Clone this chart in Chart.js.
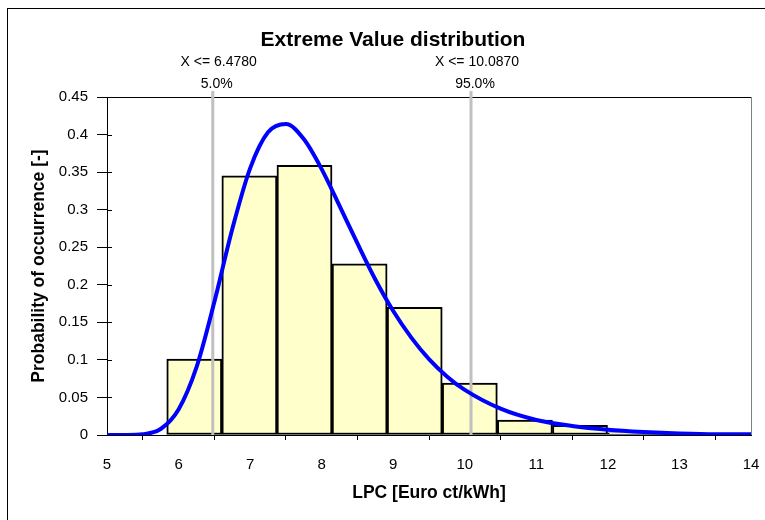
<!DOCTYPE html>
<html>
<head>
<meta charset="utf-8">
<script src="https://cdn.jsdelivr.net/npm/chart.js@4.4.0/dist/chart.umd.min.js"></script>
<style>
body { margin: 0; background: #fff; }
#wrap { position: relative; width: 765px; height: 520px; overflow: hidden; }
#frame { position: absolute; left: 7px; top: 8px; width: 900px; height: 900px; border: 1px solid #000; }
canvas { position: absolute; left: 0; top: 0; }
</style>
</head>
<body>
<div id="wrap">
  <div id="frame"></div>
  <canvas id="myChart" width="765" height="520"></canvas>
</div>
<script>
var ctx = document.getElementById('myChart').getContext('2d');
var FONT = "'Liberation Sans', Arial, sans-serif";

// Histogram (bin centres and probabilities)
var binCenters = [6.22, 6.99, 7.76, 8.53, 9.30, 10.07, 10.84, 11.61, 12.38, 13.15];
var binValues = [0.101, 0.345, 0.359, 0.228, 0.170, 0.069, 0.020, 0.013, 0.003, 0.002];

// Fitted extreme value curve
var curveX = [5, 5.25, 5.5, 5.75, 6, 6.25, 6.5, 6.75, 7, 7.25, 7.5, 7.75, 8, 8.25, 8.5, 8.75, 9, 9.25, 9.5, 9.75, 10, 10.5, 11, 11.5, 12, 12.5, 13, 13.5, 14];
var curveY = [0, 0.0001, 0.001, 0.008, 0.034, 0.09, 0.177, 0.274, 0.355, 0.403, 0.414, 0.394, 0.354, 0.305, 0.255, 0.207, 0.165, 0.13, 0.101, 0.078, 0.06, 0.035, 0.02, 0.012, 0.007, 0.004, 0.002, 0.001, 0.001];

// Percentile markers
var markerX = [6.478, 10.087];
var markerLabels = ['X <= 6.4780', 'X <= 10.0870'];
var markerPct = ['5.0%', '95.0%'];
var markerTop = 0.458;

function toPoints(xs, ys) {
    return xs.map(function (x, i) { return { x: x, y: ys[i] }; });
}

function markerLine(i) {
    return {
        type: 'line',
        data: [{ x: markerX[i], y: 0 }, { x: markerX[i], y: markerTop }],
        borderColor: '#c0c0c0',
        borderWidth: 3,
        pointRadius: 0,
        clip: false,
        order: 1
    };
}

// Extra drawing: plot frame, inner ticks, title and marker labels
var extras = {
    id: 'extras',
    beforeDatasetsDraw: function (chart) {
        var a = chart.chartArea, c = chart.ctx;
        c.save();
        c.lineWidth = 1;
        c.strokeStyle = '#000';
        c.beginPath();
        c.moveTo(a.left, a.top + 0.5);
        c.lineTo(a.right, a.top + 0.5);
        c.stroke();
        c.strokeStyle = '#808080';
        c.beginPath();
        c.moveTo(a.right + 0.5, a.top);
        c.lineTo(a.right + 0.5, a.bottom);
        c.stroke();
        c.strokeStyle = '#000';
        var ys = chart.scales.y;
        ys.ticks.forEach(function (t) {
            var py = Math.round(ys.getPixelForValue(t.value)) + 0.5;
            c.beginPath();
            c.moveTo(a.left, py);
            c.lineTo(a.left + 5, py);
            c.stroke();
        });
        c.restore();
    },
    afterDraw: function (chart) {
        var c = chart.ctx, xs = chart.scales.x;
        c.save();
        c.fillStyle = '#000';
        c.textAlign = 'center';
        c.textBaseline = 'middle';
        c.font = 'bold 21px ' + FONT;
        c.fillText('Extreme Value distribution', 393, 40);
        c.font = '14px ' + FONT;
        markerX.forEach(function (v, i) {
            var px = xs.getPixelForValue(v);
            c.fillText(markerLabels[i], px + 6, 62);
            c.fillText(markerPct[i], px + 4, 84);
        });
        c.restore();
    }
};

var myChart = new Chart(ctx, {
    data: {
        datasets: [{
            type: 'line',
            data: toPoints(curveX, curveY),
            borderColor: '#0000ff',
            borderWidth: 4,
            pointRadius: 0,
            cubicInterpolationMode: 'monotone',
            order: 0
        },
        markerLine(0),
        markerLine(1),
        {
            type: 'bar',
            data: toPoints(binCenters, binValues),
            backgroundColor: '#ffffcc',
            borderColor: '#000',
            borderWidth: 2,
            borderSkipped: false,
            barPercentage: 1,
            categoryPercentage: 1,
            grouped: false,
            order: 2
        }]
    },
    options: {
        responsive: false,
        animation: false,
        devicePixelRatio: 1,
        layout: { padding: { left: 25, right: 14, top: 97, bottom: 12 } },
        plugins: {
            legend: { display: false },
            title: { display: false },
            tooltip: { enabled: false }
        },
        scales: {
            x: {
                type: 'linear',
                offset: false,
                min: 5,
                max: 14,
                afterFit: function (s) { s.height = 73; s.paddingRight = 0; s.paddingLeft = 0; },
                ticks: { stepSize: 1, padding: 16, color: '#000', font: { family: FONT, size: 15 } },
                grid: { drawOnChartArea: false, tickLength: 5, color: '#000' },
                border: { color: '#000', width: 1 },
                title: { display: true, text: 'LPC [Euro ct/kWh]', color: '#000', font: { family: FONT, size: 17.5, weight: 'bold' } }
            },
            y: {
                min: 0,
                max: 0.45,
                afterFit: function (s) { s.width = 82; },
                ticks: {
                    stepSize: 0.05,
                    padding: 9,
                    color: '#000',
                    font: { family: FONT, size: 15 },
                    callback: function (v) { return String(Number(v.toFixed(2))); }
                },
                grid: { drawOnChartArea: false, tickLength: 10, color: '#000' },
                border: { color: '#000', width: 1 },
                title: { display: true, text: 'Probability of occurrence [-]', color: '#000', font: { family: FONT, size: 17.5, weight: 'bold' } }
            }
        }
    },
    plugins: [extras]
});
</script>
</body>
</html>
